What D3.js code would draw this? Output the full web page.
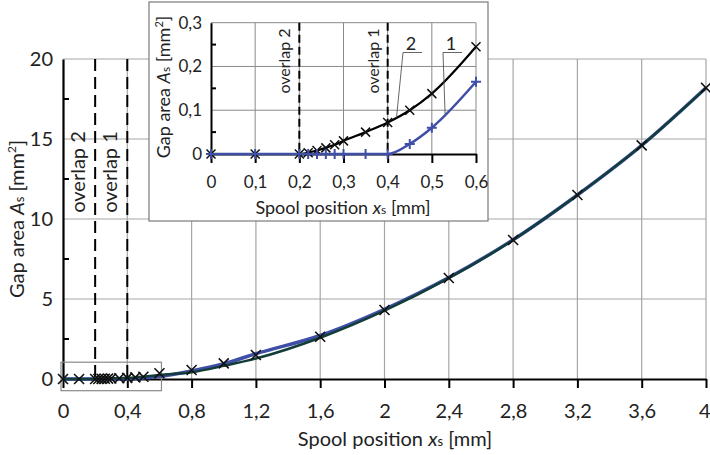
<!DOCTYPE html>
<html><head><meta charset="utf-8">
<script src="https://cdn.jsdelivr.net/npm/d3@7"></script>
<style>
html,body{margin:0;padding:0;background:#fff;}
svg{display:block;font-family:Lato,"Open Sans",sans-serif;}
</style></head>
<body>
<svg id="chart" width="710" height="455"></svg>
<script>
// ---- data ----
const xPos = [0,0.1,0.2,0.22,0.24,0.26,0.28,0.3,0.35,0.4,0.45,0.5,0.6,0.8,1.0,1.2,1.6,2.0,2.4,2.8,3.2,3.6,4.0];
const area1 = [0,0,0,0,0,0,0,0,0,0,0.023,0.06,0.165,0.5,0.95,1.58,2.72,4.36,6.34,8.7,11.5,14.6,18.2];
const area2 = [0,0,0,0.003,0.008,0.014,0.021,0.03,0.05,0.072,0.1,0.138,0.245,0.42,0.82,1.28,2.58,4.27,6.3,8.69,11.5,14.6,18.2];
const markMain = [0,0,0,0.003,0.008,0.014,0.021,0.03,0.05,0.072,0.1,0.138,0.36,0.56,0.98,1.5,2.64,4.31,6.31,8.69,11.5,14.6,18.2];
const insetN = 13; // points up to 0.6 mm
const overlaps = [{x:0.2,label:"overlap 2"},{x:0.4,label:"overlap 1"}];
const xTicksMain = [0,0.4,0.8,1.2,1.6,2,2.4,2.8,3.2,3.6,4];
const yTicksMain = [0,5,10,15,20];
const yMinorMain = [2.5,7.5,12.5,17.5];
const xTicksInset = [0,0.1,0.2,0.3,0.4,0.5,0.6];
const yTicksInset = [0,0.1,0.2,0.3];
const yMinorInset = [0.05,0.15,0.25];
const curveLabels = [{label:"2",series:2,at:0.42},{label:"1",series:1,at:0.53}];

const BLUE = "#3f4ea6", DARK = "#123d38", GRID = "#a6a6a6", TXT = "#222";
const fmt = d => String(+d.toFixed(2)).replace(".", ",");
const svg = d3.select("#chart");

// ---- main chart ----
const x = d3.scaleLinear().domain([0,4]).range([63,706]);
const y = d3.scaleLinear().domain([0,20]).range([379,59]);
const g = svg.append("g");

g.selectAll(".vg").data(xTicksMain.slice(1)).join("line")
  .attr("x1",d=>x(d)).attr("x2",d=>x(d)).attr("y1",y(0)).attr("y2",y(20))
  .attr("stroke",GRID).attr("stroke-width",1.2);
g.selectAll(".hg").data(yTicksMain.slice(1)).join("line")
  .attr("x1",x(0)).attr("x2",x(4)).attr("y1",d=>y(d)).attr("y2",d=>y(d))
  .attr("stroke",GRID).attr("stroke-width",1.2);

const xAx = g.append("g").attr("transform",`translate(0,${y(0)})`)
  .call(d3.axisBottom(x).tickValues(xTicksMain).tickFormat(fmt).tickSizeInner(9).tickSizeOuter(0).tickPadding(16));
const yAx = g.append("g").attr("transform",`translate(${x(0)},0)`)
  .call(d3.axisLeft(y).tickValues(yTicksMain).tickFormat(fmt).tickSizeInner(0).tickSizeOuter(0).tickPadding(10));
[xAx,yAx].forEach(a=>{
  a.select(".domain").attr("stroke","#000").attr("stroke-width",2.2);
  a.selectAll(".tick line").attr("stroke","#000").attr("stroke-width",2);
  a.selectAll("text").attr("font-size",20).attr("fill",TXT).attr("font-family","Lato");
});
xAx.selectAll(".tick text").filter(d=>d===4).attr("text-anchor","end").attr("dx",4);
g.selectAll(".ym").data(yMinorMain).join("line")
  .attr("x1",x(0)).attr("x2",x(0)+6).attr("y1",d=>y(d)).attr("y2",d=>y(d))
  .attr("stroke","#000").attr("stroke-width",2);

g.selectAll(".ov").data(overlaps).join("line")
  .attr("x1",d=>x(d.x)).attr("x2",d=>x(d.x)).attr("y1",y(20)).attr("y2",y(0)+4)
  .attr("stroke","#000").attr("stroke-width",2).attr("stroke-dasharray","12,6");
g.selectAll(".ovt").data(overlaps).join("text")
  .attr("transform",d=>`translate(${x(d.x)-10},172) rotate(-90)`)
  .attr("text-anchor","middle").attr("font-size",20).attr("fill",TXT)
  .text(d=>d.label);

g.append("rect").attr("x",x(0)-2).attr("y",y(1.05)).attr("width",x(0.6)-x(0)+4).attr("height",28.5)
  .attr("fill","none").attr("stroke","#8a8a8a").attr("stroke-width",1.2);

const pts = ys => xPos.map((v,i)=>[v,ys[i]]);
const lineMain = d3.line().x(d=>x(d[0])).y(d=>y(d[1])).curve(d3.curveMonotoneX);
g.append("path").attr("d",lineMain(pts(area1))).attr("fill","none").attr("stroke",BLUE).attr("stroke-width",3.5);
g.append("path").attr("d",lineMain(pts(area2))).attr("fill","none").attr("stroke",DARK).attr("stroke-width",2.5);
const cross = (sel, sx, sy, r, color, w) => {
  sel.append("path").attr("d",`M${sx-r},${sy-r}L${sx+r},${sy+r}M${sx-r},${sy+r}L${sx+r},${sy-r}`)
    .attr("stroke",color).attr("stroke-width",w).attr("fill","none");
};
const plus = (sel, sx, sy, r, color, w) => {
  sel.append("path").attr("d",`M${sx-r},${sy}L${sx+r},${sy}M${sx},${sy-r}L${sx},${sy+r}`)
    .attr("stroke",color).attr("stroke-width",w).attr("fill","none");
};
xPos.forEach((v,i)=>cross(g, x(v), y(markMain[i]), 5, "#111", 1.6));

const titleX = g.append("text").attr("x",395).attr("y",446).attr("text-anchor","middle")
  .attr("font-size",20).attr("fill",TXT);
titleX.append("tspan").text("Spool position ");
titleX.append("tspan").attr("font-style","italic").text("x");
titleX.append("tspan").attr("font-size",13).text("s");
titleX.append("tspan").text(" [mm]");
const titleY = g.append("text").attr("transform","translate(24,219) rotate(-90)").attr("text-anchor","middle")
  .attr("font-size",20).attr("fill",TXT);
titleY.append("tspan").text("Gap area ");
titleY.append("tspan").attr("font-style","italic").text("A");
titleY.append("tspan").attr("font-size",13).text("s");
titleY.append("tspan").text(" [mm");
titleY.append("tspan").attr("font-size",12).attr("dy",-8).text("2");
titleY.append("tspan").attr("dy",8).text("]");

// ---- inset ----
const ig = svg.append("g");
ig.append("rect").attr("x",149).attr("y",2).attr("width",339).attr("height",219)
  .attr("fill","#fff").attr("stroke","#7a7a7a").attr("stroke-width",1.2);
const xi = d3.scaleLinear().domain([0,0.6]).range([211,476]);
const yi = d3.scaleLinear().domain([0,0.3]).range([154,22.7]);
ig.selectAll(".vg").data(xTicksInset.slice(1)).join("line")
  .attr("x1",d=>xi(d)).attr("x2",d=>xi(d)).attr("y1",yi(0)).attr("y2",yi(0.3))
  .attr("stroke","#8a8a8a").attr("stroke-width",1);
ig.selectAll(".hg").data(yTicksInset.slice(1)).join("line")
  .attr("x1",xi(0)).attr("x2",xi(0.6)).attr("y1",d=>yi(d)).attr("y2",d=>yi(d))
  .attr("stroke","#8a8a8a").attr("stroke-width",1);
const xiAx = ig.append("g").attr("transform",`translate(0,${yi(0)})`)
  .call(d3.axisBottom(xi).tickValues(xTicksInset).tickFormat(fmt).tickSizeInner(9).tickSizeOuter(0).tickPadding(13));
const yiAx = ig.append("g").attr("transform",`translate(${xi(0)},0)`)
  .call(d3.axisLeft(yi).tickValues(yTicksInset).tickFormat(fmt).tickSizeInner(0).tickSizeOuter(0).tickPadding(9));
[xiAx,yiAx].forEach(a=>{
  a.select(".domain").attr("stroke","#000").attr("stroke-width",2);
  a.selectAll(".tick line").attr("stroke","#000").attr("stroke-width",2);
  a.selectAll("text").attr("font-size",17).attr("fill",TXT).attr("font-family","Lato");
});
ig.selectAll(".ym").data(yMinorInset).join("line")
  .attr("x1",xi(0)).attr("x2",xi(0)+5).attr("y1",d=>yi(d)).attr("y2",d=>yi(d))
  .attr("stroke","#000").attr("stroke-width",2);
ig.selectAll(".ov").data(overlaps).join("line")
  .attr("x1",d=>xi(d.x)).attr("x2",d=>xi(d.x)).attr("y1",yi(0.3)).attr("y2",yi(0))
  .attr("stroke","#000").attr("stroke-width",2).attr("stroke-dasharray","8,4");
ig.selectAll(".ovt").data(overlaps).join("text")
  .attr("transform",d=>`translate(${xi(d.x)-9},61) rotate(-90)`)
  .attr("text-anchor","middle").attr("font-size",16).attr("fill",TXT)
  .text(d=>d.label);

const xIn = xPos.slice(0,insetN);
const lineIn = d3.line().x(d=>xi(d[0])).y(d=>yi(d[1])).curve(d3.curveMonotoneX);
const ptsIn = ys => xIn.map((v,i)=>[v,ys[i]]);
ig.append("path").attr("d",lineIn(ptsIn(area2))).attr("fill","none").attr("stroke","#000").attr("stroke-width",2.2);
ig.append("path").attr("d",lineIn(ptsIn(area1))).attr("fill","none").attr("stroke",BLUE).attr("stroke-width",2.5);
xIn.forEach((v,i)=>cross(ig, xi(v), yi(area2[i]), 4.5, "#111", 1.5));
xIn.forEach((v,i)=>plus(ig, xi(v), yi(area1[i]), 5, BLUE, 2));

const lblX = {2:411, 1:451};
curveLabels.forEach(c=>{
  const ys = c.series===1 ? area1 : area2;
  const i = d3.bisectLeft(xIn, c.at);
  const t = (c.at - xIn[i-1])/(xIn[i]-xIn[i-1]);
  const val = ys[i-1] + t*(ys[i]-ys[i-1]);
  const lx = lblX[c.label];
  ig.append("path").attr("d",`M${xi(c.at)},${yi(val)}L${lx-8},52.5L${lx+11},52.5`)
    .attr("fill","none").attr("stroke","#555").attr("stroke-width",0.9);
  ig.append("text").attr("x",lx).attr("y",50).attr("text-anchor","middle")
    .attr("font-size",18).attr("fill",TXT).text(c.label);
});

const itX = ig.append("text").attr("x",343).attr("y",214).attr("text-anchor","middle")
  .attr("font-size",18).attr("fill",TXT);
itX.append("tspan").text("Spool position ");
itX.append("tspan").attr("font-style","italic").text("x");
itX.append("tspan").attr("font-size",12).text("s");
itX.append("tspan").text(" [mm]");
const itY = ig.append("text").attr("transform","translate(170,87) rotate(-90)").attr("text-anchor","middle")
  .attr("font-size",18).attr("fill",TXT);
itY.append("tspan").text("Gap area ");
itY.append("tspan").attr("font-style","italic").text("A");
itY.append("tspan").attr("font-size",12).text("s");
itY.append("tspan").text(" [mm");
itY.append("tspan").attr("font-size",11).attr("dy",-7).text("2");
itY.append("tspan").attr("dy",7).text("]");
</script>
</body></html>
